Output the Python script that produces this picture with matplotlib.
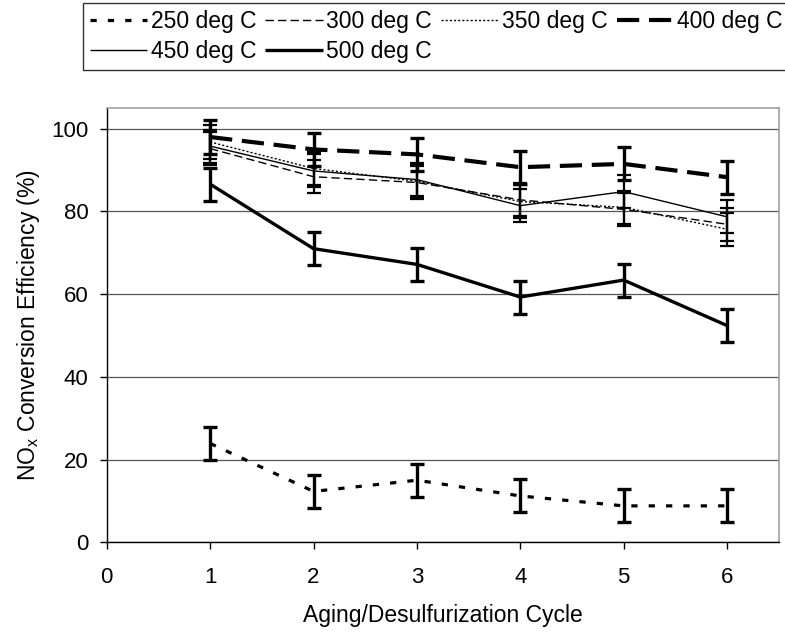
import matplotlib
matplotlib.use('Agg')
import matplotlib.pyplot as plt

plt.rcParams['font.family'] = ['Liberation Sans', 'DejaVu Sans']
plt.rcParams['mathtext.fontset'] = 'custom'
plt.rcParams['mathtext.rm'] = 'Liberation Sans'
plt.rcParams['lines.scale_dashes'] = False

# data
cycles = [1, 2, 3, 4, 5, 6]
labels = ['250 deg C', '300 deg C', '350 deg C', '400 deg C', '450 deg C', '500 deg C']
eff_250 = [23.9, 12.3, 15.0, 11.2, 8.8, 8.8]
eff_300 = [95.2, 88.4, 87.0, 82.8, 80.5, 76.9]
eff_350 = [96.8, 90.4, 87.3, 82.4, 81.0, 75.7]
eff_400 = [98.0, 95.0, 93.8, 90.7, 91.5, 88.3]
eff_450 = [95.8, 89.8, 87.7, 81.4, 84.8, 78.7]
eff_500 = [86.6, 71.0, 67.2, 59.3, 63.4, 52.4]
err_bar = [4.0, 4.0, 4.0, 4.0, 4.0, 4.0]

series = [eff_250, eff_300, eff_350, eff_400, eff_450, eff_500]
# (linewidth, dash pattern in points or solid)
styles = [
    (2.3, (0, (4.5, 8.0))),
    (1.0, (0, (6, 3))),
    (1.0, (0, (1.5, 1.5))),
    (3.0, (0, (16, 7))),
    (1.0, '-'),
    (2.4, '-'),
]

fig = plt.figure(figsize=(7.85, 6.32), dpi=100)
ax = fig.add_axes([0.136, 0.142, 0.856, 0.687])

handles = []
for vals, lab, (lw, ls) in zip(series, labels, styles):
    ebw = 2.4 if lw > 2 else 1.6
    ax.errorbar(cycles, vals, yerr=err_bar, fmt='none', ecolor='black',
                elinewidth=ebw, capsize=5, capthick=ebw, zorder=3)
    ln, = ax.plot(cycles, vals, color='black', lw=lw, linestyle=ls,
                  dash_capstyle='butt', solid_capstyle='butt', label=lab, zorder=4)
    handles.append(ln)

ax.set_xlim(0, 6.5)
ax.set_ylim(0, 105)
ax.set_xticks([0, 1, 2, 3, 4, 5, 6])
ax.set_yticks([0, 20, 40, 60, 80, 100])
ax.yaxis.grid(True, color='#555555', lw=0.9)
ax.set_axisbelow(True)
ax.tick_params(direction='out', length=5, width=1, labelsize=16)
ax.tick_params(axis='x', pad=13)
ax.tick_params(axis='y', pad=8)

for side in ['top', 'right']:
    ax.spines[side].set_color('#a0a0a0')
    ax.spines[side].set_linewidth(1.2)
for side in ['left', 'bottom']:
    ax.spines[side].set_color('black')
    ax.spines[side].set_linewidth(1.0)

ax.set_xlabel('Aging/Desulfurization Cycle', fontsize=16.5, labelpad=11)
ax.set_ylabel(r'NO$_\mathregular{x}$ Conversion Efficiency (%)', fontsize=16.5, labelpad=7)

# matplotlib fills legend columns first; reorder so rows read 250..400 then 450, 500
order = [0, 4, 1, 5, 2, 3]
leg = fig.legend([handles[i] for i in order], [labels[i] for i in order], ncol=4,
                 loc='upper left', bbox_to_anchor=(0.106, 0.995),
                 bbox_transform=fig.transFigure,
                 fontsize=16.5, frameon=True, fancybox=False, edgecolor='black',
                 handlelength=2.5, handletextpad=0.15, columnspacing=0.4,
                 labelspacing=0.3, borderpad=0.3, borderaxespad=0)
leg.get_frame().set_linewidth(1.0)

fig.savefig('out.png', dpi=100)
